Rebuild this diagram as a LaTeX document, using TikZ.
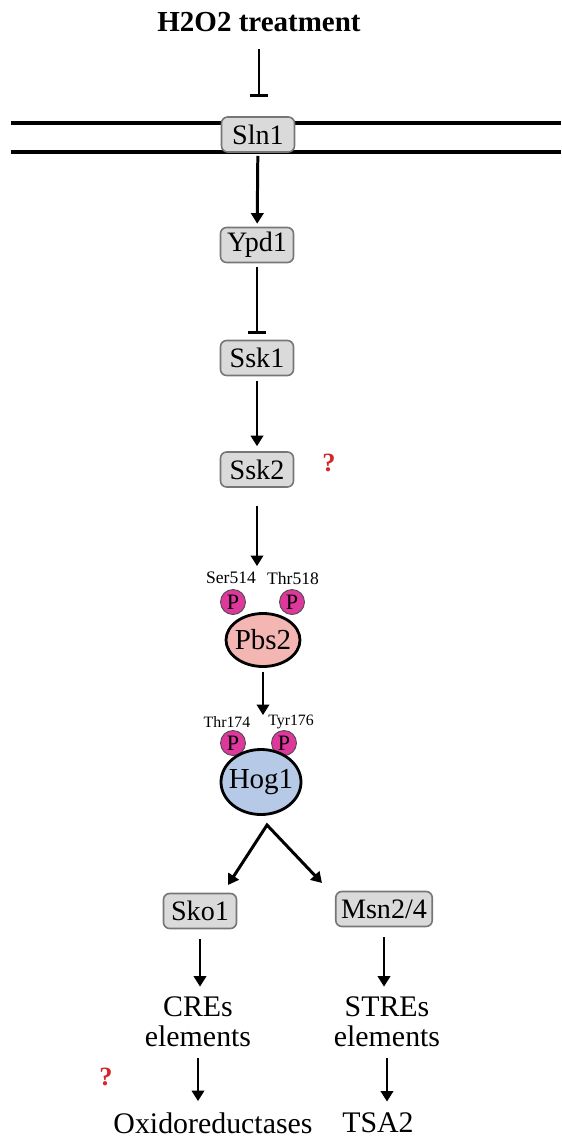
\documentclass[tikz,border=0pt]{standalone}
\usepackage{fontspec}
\setmainfont{Liberation Serif}
\usepackage{xcolor}
\usetikzlibrary{arrows.meta,shapes.geometric}
\definecolor{boxgray}{RGB}{218,218,218}
\definecolor{boxedge}{RGB}{118,118,118}
\definecolor{pinkpbs}{RGB}{244,182,178}
\definecolor{bluehog}{RGB}{182,202,232}
\definecolor{phospho}{RGB}{222,56,156}
\definecolor{qred}{RGB}{214,38,38}

\begin{document}
\begin{tikzpicture}
\tikzstyle{component}=[rectangle,rounded corners=3.5pt,draw=boxedge,line width=0.9pt,fill=boxgray,minimum width=1.46cm,minimum height=0.7cm,inner xsep=3pt,inner ysep=0pt,font=\fontsize{16}{18}\selectfont]
\tikzstyle{kinase}=[ellipse,draw=black,line width=1.6pt,inner xsep=-2.5pt,inner ysep=0pt,font=\fontsize{16.5}{18}\selectfont]
\tikzstyle{phos}=[circle,draw=black!70,line width=0.5pt,fill=phospho,minimum size=0.5cm,inner sep=0pt,font=\fontsize{12.5}{13}\selectfont]
\tikzstyle{site}=[inner sep=0pt,font=\fontsize{10}{11}\selectfont]
\tikzstyle{element}=[inner sep=0pt,align=center,font=\fontsize{17}{17}\selectfont]
\tikzstyle{unknown}=[inner sep=0pt,text=qred,font=\fontsize{15}{15}\selectfont\bfseries]
\tikzstyle{act}=[line width=1.7pt,-{Triangle[length=6pt,width=7pt]}]
\tikzstyle{inh}=[line width=1.7pt,-{Bar[width=10pt,line width=1.8pt]}]
\tikzstyle{membrane}=[line width=1.8pt]

\useasboundingbox (0,0) rectangle (11.22,-22.8);

% membrane
\draw[membrane] (0.22,-2.46) -- (11.22,-2.46);
\draw[membrane] (0.22,-3.04) -- (11.22,-3.04);

\node[inner sep=0pt,font=\fontsize{16.5}{18}\selectfont\bfseries](H2O2) at (5.18,-0.44){H2O2 treatment};
\node[component](Sln1) at (5.16,-2.69){Sln1};
\node[component](Ypd1) at (5.14,-4.9){Ypd1};
\node[component](Ssk1) at (5.14,-7.16){Ssk1};
\node[component](Ssk2) at (5.14,-9.39){Ssk2};
\node[unknown](Q1) at (6.58,-9.26){?};

% phosphorylation sites
\node[site](Ser514) at (4.62,-11.56){Ser514};
\node[site](Thr518) at (5.86,-11.56){Thr518};
\node[phos](PbsP1) at (4.66,-12.04){P};
\node[phos](PbsP2) at (5.84,-12.04){P};
\node[kinase,fill=pinkpbs,minimum width=1.48cm,minimum height=1.06cm](Pbs2) at (5.26,-12.8){Pbs2};

\node[site,font=\fontsize{9}{10}\selectfont](Thr174) at (4.54,-14.44){Thr174};
\node[site,font=\fontsize{9}{10}\selectfont](Tyr176) at (5.82,-14.44){Tyr176};
\node[phos](HogP1) at (4.66,-14.86){P};
\node[phos](HogP2) at (5.68,-14.86){P};
\node[kinase,fill=bluehog,minimum width=1.6cm,minimum height=1.3cm](Hog1) at (5.22,-15.64){Hog1};

\node[component](Sko1) at (4.0,-18.22){Sko1};
\node[component](Msn) at (7.68,-18.18){Msn2/4};
\node[element](CREs) at (3.96,-20.44){CREs\\elements};
\node[element](STREs) at (7.74,-20.44){STREs\\elements};
\node[unknown](Q2) at (2.12,-21.54){?};
\node[inner sep=0pt,font=\fontsize{17}{17}\selectfont](Oxi) at (4.26,-22.46){Oxidoreductases};
\node[inner sep=0pt,font=\fontsize{17}{17}\selectfont](TSA2) at (7.56,-22.46){TSA2};

\coordinate (Split) at (5.34,-16.5);
\coordinate (SkoTip) at (4.56,-17.7);
\coordinate (MsnTip) at (6.44,-17.66);

\draw[inh,shorten <=0.34cm,shorten >=0.38cm] (H2O2) -- (H2O2 |- Sln1.north);
\draw[act,shorten <=0.06cm,shorten >=0.06cm] (Sln1) -- (Ypd1);
\draw[inh,shorten <=0.08cm,shorten >=0.12cm] (Ypd1) -- (Ssk1);
\draw[act,shorten <=0.1cm,shorten >=0.1cm] (Ssk1) -- (Ssk2);
\draw[act,shorten <=0.36cm,shorten >=0.92cm] (Ssk2) -- (Ssk2 |- Pbs2.north);
\draw[act,shorten <=0.08cm,shorten >=0.66cm] (Pbs2) -- (Pbs2 |- Hog1.north);
\draw[line width=1.7pt,{Triangle[length=6pt,width=7pt]}-{Triangle[length=6pt,width=7pt]}] (SkoTip) -- (Split) -- (MsnTip);
\draw[act,shorten <=0.2cm,shorten >=0.2cm] (Sko1) -- (Sko1 |- CREs.north);
\draw[act,shorten <=0.2cm,shorten >=0.2cm] (Msn) -- (Msn |- STREs.north);
\draw[act,shorten <=0.22cm,shorten >=0.22cm] (CREs) -- (CREs |- Oxi.north);
\draw[act,shorten <=0.22cm,shorten >=0.22cm] (STREs) -- (STREs |- TSA2.north);

\end{tikzpicture}
\end{document}
